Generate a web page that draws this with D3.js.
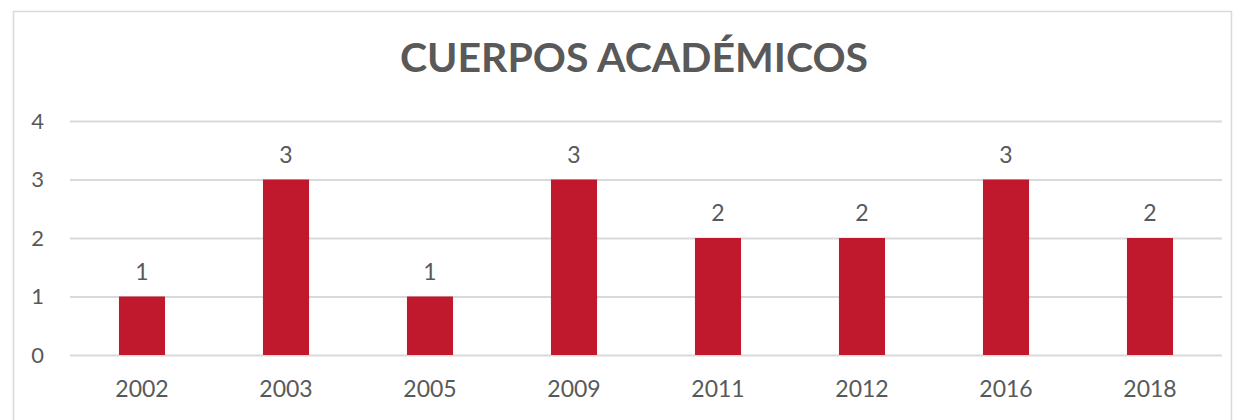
<!DOCTYPE html>
<html>
<head>
<meta charset="utf-8">
<script src="https://cdn.jsdelivr.net/npm/d3@7"></script>
<style>
  body { margin: 0; background: #fff; }
  text { font-family: Lato, "Open Sans", sans-serif; fill: #595959; }
</style>
</head>
<body>
<svg id="chart" width="1242" height="420"></svg>
<script>
var title = "CUERPOS ACADÉMICOS";
var years = ["2002", "2003", "2005", "2009", "2011", "2012", "2016", "2018"];
var values = [1, 3, 1, 3, 2, 2, 3, 2];
var yTicks = [0, 1, 2, 3, 4];

var svg = d3.select("#chart");
var margin = {top: 121, right: 20, bottom: 65, left: 70};
var width = 1222 - margin.left;
var height = 355 - margin.top;

// frame
svg.append("rect")
    .attr("x", 13.5).attr("y", 11.5)
    .attr("width", 1218).attr("height", 430)
    .attr("fill", "none")
    .attr("stroke", "#d9d9d9")
    .attr("stroke-width", 1.5);

svg.append("text")
    .attr("x", 634).attr("y", 72)
    .attr("text-anchor", "middle")
    .style("font-size", "41px")
    .style("font-weight", "bold")
    .text(title);

var x = d3.scaleBand().domain(years).range([0, width]).paddingInner(0.68).paddingOuter(0.34);
var y = d3.scaleLinear().domain([0, 4]).range([height, 0]);

var g = svg.append("g")
    .attr("transform", "translate(" + margin.left + "," + margin.top + ")");

var yAxis = g.append("g")
    .call(d3.axisLeft(y).tickValues(yTicks).tickSize(-width).tickFormat(d3.format("d")));
yAxis.select(".domain").remove();
yAxis.selectAll(".tick line").attr("stroke", "#d9d9d9").attr("stroke-width", 2);
yAxis.selectAll(".tick text")
    .attr("x", -26)
    .style("font-size", "22px")
    .attr("fill", "#595959");

var xAxis = g.append("g")
    .attr("transform", "translate(0," + height + ")")
    .call(d3.axisBottom(x).tickSize(0).tickPadding(26));
xAxis.select(".domain").remove();
xAxis.selectAll(".tick text")
    .style("font-size", "23px")
    .attr("fill", "#595959");

var data = years.map(function(d, i) { return {year: d, value: values[i]}; });

g.selectAll(".bar")
    .data(data)
  .enter().append("rect")
    .attr("class", "bar")
    .attr("x", function(d) { return x(d.year); })
    .attr("width", x.bandwidth())
    .attr("y", function(d) { return y(d.value); })
    .attr("height", function(d) { return height - y(d.value); })
    .attr("fill", "#c0192e");

g.selectAll(".label")
    .data(data)
  .enter().append("text")
    .attr("class", "label")
    .attr("x", function(d) { return x(d.year) + x.bandwidth() / 2; })
    .attr("y", function(d) { return y(d.value) - 17; })
    .attr("text-anchor", "middle")
    .style("font-size", "23px")
    .text(function(d) { return d.value; });
</script>
</body>
</html>
